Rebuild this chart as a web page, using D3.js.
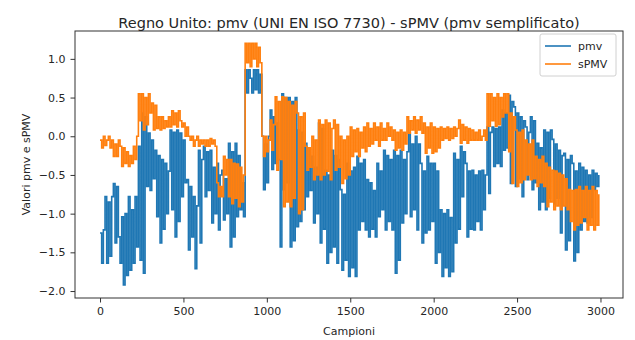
<!DOCTYPE html>
<html>
<head>
<meta charset="utf-8">
<script src="https://cdn.jsdelivr.net/npm/d3@7"></script>
<style>
  body { margin: 0; background: #fff; }
  text { font-family: "DejaVu Sans", sans-serif; fill: #262626; }
</style>
</head>
<body>
<svg width="635" height="340"></svg>
<script>
// sample index of each value = i * passo (one row = 100 samples)
const passo = 10;

const pmv = [
  -1.25, -1.64, -1.21, -0.78, -1.64, -0.85, -1.55, -0.78, -0.61, -1.38,
  -0.65, -1.30, -1.64, -1.04, -1.92, -1.00, -1.80, -0.78, -1.73, -0.95,
  -1.64, -0.78, -1.43, -0.13, -1.60, 0.30, -1.77, 0.25, -0.65, 0.04,
  -0.70, -0.05, -0.55, -0.18, -1.04, -0.25, -1.38, -0.30, -1.20, -0.35,
  -1.00, -0.45, 0.08, -0.95, 0.05, -1.30, 0.08, -1.10, 0.04, -0.78,
  -0.05, -0.60, -0.56, -1.47, -0.65, -1.30, -0.78, -1.71, -0.90, -0.18,
  -1.38, -0.30, -0.13, -0.78, -0.20, -0.70, -0.18, -1.12, -0.40, -1.00,
  -0.35, -1.21, -0.50, -0.44, -1.08, -0.55, -1.00, -0.09, -1.43, -0.20,
  -1.30, -0.09, -1.04, -0.25, -0.95, -0.60, -1.04, 0.86, 0.56, 0.86,
  0.75, 0.56, 0.86, 0.60, 0.86, 0.56, 0.80, 0.00, -0.69, -0.10,
  -0.60, 0.00, 0.34, -0.43, 0.25, -0.35, 0.17, -0.30, -1.43, 0.55,
  -0.69, 0.50, -0.60, 0.50, -1.43, 0.45, -1.35, 0.50, -1.17, 0.08,
  -1.10, 0.05, -0.95, -0.09, -0.78, -0.15, -0.70, -0.26, -1.12, -0.40,
  -1.00, 0.17, -1.38, 0.10, -1.20, -0.44, -1.64, -0.50, -1.50, -0.18,
  -1.43, -0.25, -1.64, -0.30, -0.69, -1.73, -0.75, -1.60, -0.35, -1.81,
  -0.45, -1.70, -0.40, -1.81, -0.26, -1.21, -0.35, -1.10, -0.30, -1.21,
  -0.56, -1.30, -0.60, -1.20, -0.70, -1.30, -0.35, -1.04, -0.45, -0.95,
  -0.18, -1.21, -0.25, -1.10, -0.30, -1.21, -0.18, -1.77, -0.25, -1.60,
  -0.18, -1.12, -0.30, -1.00, -0.20, 0.04, -1.04, -0.10, -0.95, 0.00,
  -1.21, -0.10, -0.35, -1.38, -0.45, -1.25, -0.26, -1.21, -0.35, -1.10,
  -0.35, -1.64, -0.45, -1.50, -0.95, -1.81, -1.00, -1.70, -0.95, -1.81,
  -1.05, -1.75, -0.22, -1.38, -0.30, -1.20, -0.13, -0.78, -0.20, -0.35,
  -1.30, -0.45, -1.20, -0.44, -1.21, -0.50, -1.10, -0.45, -1.21, -0.44,
  -0.95, -0.50, 0.12, -0.74, 0.05, 0.12, -0.39, 0.10, -0.35, 0.12,
  -0.39, 0.34, -0.18, 0.30, -0.15, 0.53, -0.61, 0.45, 0.38, -0.65,
  0.30, -0.55, 0.25, -0.78, 0.20, 0.12, -0.56, 0.05, 0.25, -0.69,
  0.20, -0.60, -0.09, -0.95, -0.15, -0.85, 0.08, -0.95, 0.05, -0.80,
  0.08, -0.04, -0.87, -0.10, -0.80, -0.18, -1.25, -0.25, -0.22, -1.47,
  -0.30, -1.35, -0.25, -0.35, -1.61, -0.45, -1.50, -0.35, -1.21, -0.40,
  -1.10, -0.44, -1.12, -0.50, -1.05, -0.44, -0.69, -0.48, -0.65, -0.50
];

const spmv = [
  -0.05, -0.15, 0.00, -0.12, -0.05, 0.00, -0.15, -0.05, -0.26, -0.10,
  -0.26, -0.05, -0.13, -0.39, -0.15, -0.35, -0.20, -0.39, -0.25, -0.35,
  -0.13, -0.30, 0.00, 0.55, 0.20, 0.55, 0.08, 0.50, 0.15, 0.55,
  0.30, 0.43, 0.08, 0.40, 0.10, 0.25, 0.08, 0.25, 0.10, 0.20,
  0.12, 0.25, 0.12, 0.33, 0.15, 0.30, 0.12, 0.33, 0.20, 0.12,
  0.17, 0.00, 0.12, 0.00, -0.05, 0.00, -0.13, -0.05, 0.00, -0.13,
  -0.05, -0.10, -0.05, -0.13, -0.05, -0.13, -0.03, -0.10, -0.05, -0.13,
  -0.60, -0.78, -0.65, -0.78, -0.26, -0.50, -0.30, -0.78, -0.30, -0.87,
  -0.35, -0.80, -0.36, -0.91, -0.40, -0.85, -0.50, 1.20, 0.95, 1.20,
  0.90, 1.20, 1.00, 1.20, 0.90, 1.15, 0.95, 0.00, -0.26, 0.00,
  -0.20, -0.05, 0.21, -0.18, 0.15, 0.51, -0.44, 0.45, -0.30, 0.51,
  -0.91, 0.50, -0.85, 0.45, -0.91, 0.40, -0.80, 0.45, 0.30, -1.00,
  0.25, -0.95, 0.30, -0.13, -0.44, -0.15, -0.40, 0.00, -0.56, -0.05,
  -0.50, 0.21, -0.56, 0.15, -0.50, 0.21, -0.45, 0.17, -0.56, 0.10,
  0.21, -0.44, 0.15, -0.40, 0.00, -0.61, -0.05, -0.55, 0.00, -0.50,
  0.12, -0.26, 0.08, -0.20, 0.10, -0.26, 0.05, -0.15, 0.12, -0.20,
  0.17, -0.13, 0.10, -0.10, 0.17, -0.05, 0.12, -0.13, 0.17, -0.05,
  0.10, -0.05, 0.17, 0.00, 0.12, -0.05, 0.08, -0.18, 0.05, -0.15,
  0.08, -0.18, 0.05, -0.10, 0.25, 0.04, 0.20, 0.08, 0.25, 0.04,
  0.21, 0.08, 0.25, 0.04, 0.17, -0.22, 0.12, -0.15, 0.17, -0.22,
  0.12, -0.20, 0.10, -0.15, 0.12, -0.05, 0.10, -0.03, 0.12, -0.05,
  0.10, -0.03, 0.12, 0.00, 0.10, 0.21, -0.09, 0.15, -0.05, 0.12,
  -0.09, 0.10, -0.05, 0.08, -0.05, 0.05, -0.05, 0.08, -0.05, 0.00,
  0.08, -0.05, 0.55, 0.13, 0.55, 0.20, 0.50, 0.13, 0.55, 0.15,
  0.50, 0.25, 0.55, 0.30, 0.55, -0.20, 0.30, -0.61, 0.25, 0.08,
  -0.65, 0.05, -0.60, 0.08, -0.56, -0.05, -0.50, -0.10, -0.56, -0.05,
  -0.55, -0.26, -0.65, -0.30, -0.60, -0.26, -0.65, -0.35, -0.91, -0.40,
  -0.85, -0.44, -0.95, -0.45, -0.90, -0.48, -0.95, -0.50, -0.90, -0.55,
  -0.95, -0.69, -1.10, -0.70, -1.21, -0.69, -1.15, -0.65, -1.12, -0.70,
  -1.05, -0.65, -1.21, -0.70, -1.15, -0.65, -1.21, -0.70, -1.15, -0.75
];

const xTicks = [0, 500, 1000, 1500, 2000, 2500, 3000];
const yTicks = [-2.0, -1.5, -1.0, -0.5, 0.0, 0.5, 1.0];

const series = [
  { name: 'pmv', values: pmv, color: '#1f77b4' },
  { name: 'sPMV', values: spmv, color: '#ff7f0e' }
];

const svg = d3.select('svg');
const margin = { top: 31, right: 12, bottom: 42, left: 75 };
const width = +svg.attr('width');
const height = +svg.attr('height');
const innerWidth = width - margin.left - margin.right;
const innerHeight = height - margin.top - margin.bottom;

const xScale = d3.scaleLinear()
  .domain([-150, 3135])
  .range([0, innerWidth]);

const yScale = d3.scaleLinear()
  .domain([-2.09, 1.36])
  .range([innerHeight, 0]);

const g = svg.append('g')
  .attr('transform', `translate(${margin.left},${margin.top})`);

const line = d3.line()
  .x((d, i) => xScale(i * passo))
  .y(d => yScale(d))
  .curve(d3.curveStepAfter);

g.selectAll('.serie').data(series)
  .enter().append('path')
  .attr('class', 'serie')
  .attr('fill', 'none')
  .attr('stroke', d => d.color)
  .attr('stroke-width', 1.6)
  .attr('d', d => line(d.values));

// Axes
const xAxis = d3.axisBottom(xScale)
  .tickValues(xTicks)
  .tickSize(4.5)
  .tickPadding(5)
  .tickFormat(d3.format('d'));

const yAxis = d3.axisLeft(yScale)
  .tickValues(yTicks)
  .tickSize(4.5)
  .tickPadding(5)
  .tickFormat(d3.format('.1f'));

const xAxisG = g.append('g')
  .attr('transform', `translate(0,${innerHeight})`)
  .call(xAxis);
const yAxisG = g.append('g').call(yAxis);

[xAxisG, yAxisG].forEach(a => {
  a.select('.domain').remove();
  a.selectAll('.tick line').attr('stroke', '#333');
  a.selectAll('.tick text')
    .attr('font-family', '"DejaVu Sans", sans-serif')
    .attr('font-size', 11)
    .attr('fill', '#262626');
});

// frame
g.append('rect')
  .attr('width', innerWidth)
  .attr('height', innerHeight)
  .attr('fill', 'none')
  .attr('stroke', '#333')
  .attr('stroke-width', 1);

// labels
svg.append('text')
  .attr('x', margin.left + innerWidth / 2)
  .attr('y', 28)
  .attr('text-anchor', 'middle')
  .attr('font-size', 14.5)
  .text('Regno Unito: pmv (UNI EN ISO 7730) - sPMV (pmv semplificato)');

svg.append('text')
  .attr('x', margin.left + innerWidth / 2)
  .attr('y', 335)
  .attr('text-anchor', 'middle')
  .attr('font-size', 11)
  .text('Campioni');

svg.append('text')
  .attr('transform', `translate(30,${margin.top + innerHeight / 2}) rotate(-90)`)
  .attr('text-anchor', 'middle')
  .attr('font-size', 11)
  .text('Valori pmv e sPMV');

// Legend
const legend = svg.append('g').attr('transform', 'translate(540,34)');
legend.append('rect')
  .attr('width', 76)
  .attr('height', 42)
  .attr('rx', 2)
  .attr('fill', '#fff')
  .attr('fill-opacity', 0.8)
  .attr('stroke', '#d0d0d0');

const item = legend.selectAll('.item').data(series)
  .enter().append('g')
  .attr('class', 'item')
  .attr('transform', (d, i) => `translate(0,${12 + i * 18})`);
item.append('line')
  .attr('x1', 5).attr('x2', 31)
  .attr('stroke', d => d.color)
  .attr('stroke-width', 1.6);
item.append('text')
  .attr('x', 38)
  .attr('y', 4)
  .attr('font-size', 11)
  .text(d => d.name);
</script>
</body>
</html>
